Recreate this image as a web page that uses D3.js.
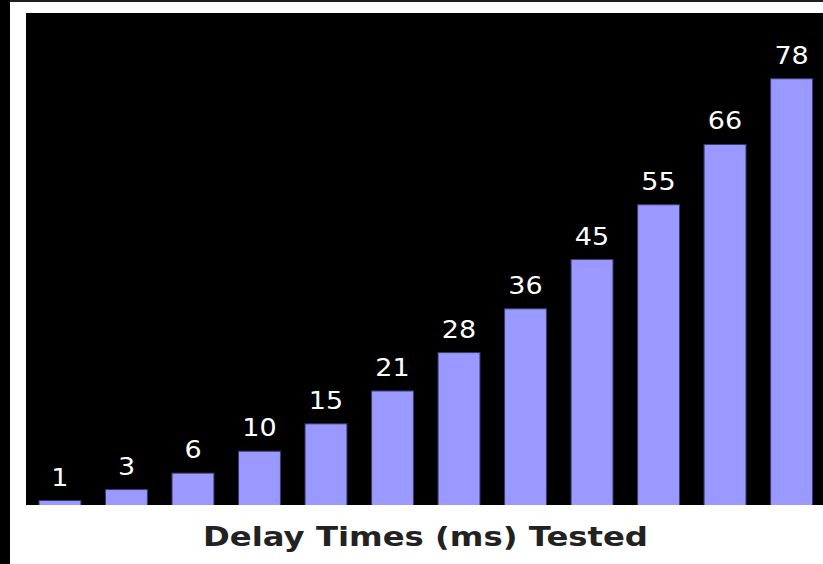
<!DOCTYPE html>
<html>
<head>
<meta charset="utf-8">
<script src="https://cdn.jsdelivr.net/npm/d3@7"></script>
<style>
  html, body { margin: 0; padding: 0; background: #ffffff; }
  svg { display: block; }
</style>
</head>
<body>
<svg id="chart" width="823" height="564"></svg>
<script>
// Delay values tested, in milliseconds
const delayLabels = ["1", "3", "6", "10", "15", "21", "28", "36", "45", "55", "66", "78"];
const delayValues = [1, 3, 6, 10, 15, 21, 28, 36, 45, 55, 66, 78];
const yDomain = [0, 90];
const axisTitle = "Delay Times (ms) Tested";

const W = 823, H = 564;
const plot = { left: 26, top: 13, right: 823, bottom: 505 };

const svg = d3.select("#chart");

// page frame: dark strip on the left, thin dark line on top
svg.append("rect").attr("x", 0).attr("y", 0).attr("width", W).attr("height", H).attr("fill", "#ffffff");
svg.append("rect").attr("x", 0).attr("y", 0).attr("width", W).attr("height", 2).attr("fill", "#1e1e1e");
svg.append("rect").attr("x", 0).attr("y", 0).attr("width", 10).attr("height", H).attr("fill", "#000000");

// plotting area
svg.append("rect")
  .attr("x", plot.left).attr("y", plot.top)
  .attr("width", plot.right - plot.left).attr("height", plot.bottom - plot.top)
  .attr("fill", "#000000");

svg.append("clipPath").attr("id", "plotClip")
  .append("rect")
  .attr("x", plot.left).attr("y", plot.top)
  .attr("width", plot.right - plot.left).attr("height", plot.bottom - plot.top);

// band scale: first bar starts at 39, last bar ends at 812.5
const x = d3.scaleBand()
  .domain(delayLabels)
  .range([39, 812.5])
  .paddingInner(0.37)
  .paddingOuter(0);

const y = d3.scaleLinear().domain(yDomain).range([506, plot.top]);

const g = svg.append("g").attr("clip-path", "url(#plotClip)");

g.selectAll("rect.bar")
  .data(delayValues)
  .join("rect")
  .attr("class", "bar")
  .attr("x", (d, i) => x(delayLabels[i]))
  .attr("y", d => y(d))
  .attr("width", x.bandwidth())
  .attr("height", d => y(0) - y(d) + 2)
  .attr("fill", "#9999ff")
  .attr("stroke", "#3b3b70")
  .attr("stroke-width", 1);

// value labels above each bar (slightly widened glyphs)
svg.selectAll("text.value")
  .data(delayValues)
  .join("text")
  .attr("class", "value")
  .attr("transform", (d, i) => {
    const cx = x(delayLabels[i]) + x.bandwidth() / 2;
    return `translate(${cx},${y(d) - 15}) scale(1.08,1)`;
  })
  .attr("text-anchor", "middle")
  .attr("fill", "#ffffff")
  .attr("font-family", "DejaVu Sans, Verdana, sans-serif")
  .attr("font-size", 25)
  .text((d, i) => delayLabels[i]);

// axis title
svg.append("text")
  .attr("x", 203)
  .attr("y", 546)
  .attr("textLength", 445)
  .attr("lengthAdjust", "spacingAndGlyphs")
  .attr("fill", "#222222")
  .attr("font-family", "DejaVu Sans, Verdana, sans-serif")
  .attr("font-weight", "bold")
  .attr("font-size", 26)
  .text(axisTitle);
</script>
</body>
</html>
